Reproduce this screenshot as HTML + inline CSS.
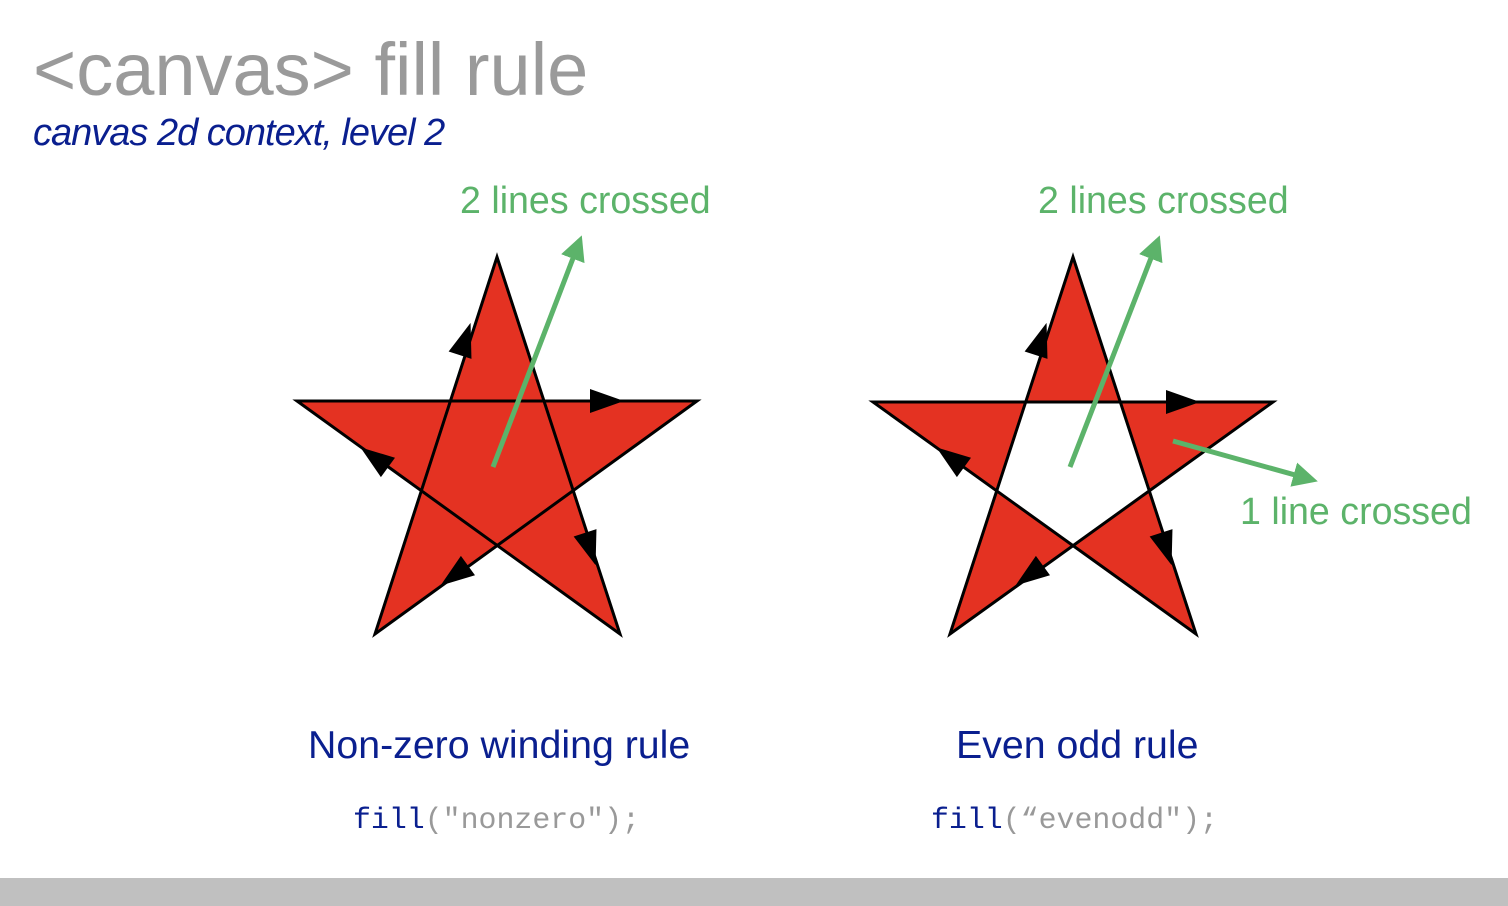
<!DOCTYPE html>
<html><head><meta charset="utf-8"><style>
html,body{margin:0;padding:0;background:#fff;}
body{width:1508px;height:906px;position:relative;overflow:hidden;font-family:"Liberation Sans",sans-serif;}
.t{position:absolute;white-space:nowrap;}
</style></head><body>
<div class="t" style="left:33px;top:30px;font-size:74px;color:#9a9a9a;line-height:80px;">&lt;canvas&gt; fill rule</div>
<div class="t" style="left:33px;top:111px;font-size:38px;color:#0a1f8f;font-style:italic;letter-spacing:-1px;line-height:44px;">canvas 2d context, level 2</div>
<div class="t" style="left:460px;top:178px;font-size:37.6px;color:#5cb36a;line-height:44px;">2 lines crossed</div>
<div class="t" style="left:1038px;top:178px;font-size:37.6px;color:#5cb36a;line-height:44px;">2 lines crossed</div>
<div class="t" style="left:1240px;top:489px;font-size:37.6px;color:#5cb36a;line-height:44px;">1 line crossed</div>
<div class="t" style="left:308px;top:723px;font-size:39.3px;color:#0a1f8f;line-height:44px;">Non-zero winding rule</div>
<div class="t" style="left:956px;top:723px;font-size:39.3px;color:#0a1f8f;line-height:44px;">Even odd rule</div>
<div class="t" style="left:353px;top:802px;font-size:29.9px;font-family:'Liberation Mono',monospace;color:#999;line-height:36px;"><span style="color:#0a1f8f">fill</span>("nonzero");</div>
<div class="t" style="left:931px;top:802px;font-size:29.9px;font-family:'Liberation Mono',monospace;color:#999;line-height:36px;"><span style="color:#0a1f8f">fill</span>(“evenodd");</div>
<div style="position:absolute;left:0;top:878px;width:1508px;height:28px;background:#c0c0c0;"></div>
<svg width="1508" height="906" style="position:absolute;left:0;top:0" xmlns="http://www.w3.org/2000/svg">
<defs>
<marker id="g" viewBox="0 0 10 10" refX="8" refY="5" markerWidth="5" markerHeight="5" orient="auto"><path d="M0,0 L10,5 L0,10 z" fill="#5cb36a"/></marker>
<g id="ah"><path d="M-16,-12 L18,0 L-16,12 z" fill="#000"/></g>
</defs>
<g>
<path d="M375,634 L497,257 L620,634 L297,401 L697,401 Z" fill="#e43222" stroke="#000" stroke-width="3" fill-rule="nonzero"/>
<use href="#ah" transform="translate(465,340) rotate(-72)"/>
<use href="#ah" transform="translate(590,548) rotate(72)"/>
<use href="#ah" transform="translate(375,458) rotate(-144)"/>
<use href="#ah" transform="translate(606,401)"/>
<use href="#ah" transform="translate(455,575) rotate(144)"/>
</g>
<g>
<path d="M950,634 L1073,257 L1196,634 L873,402 L1273,402 Z" fill="#e43222" stroke="#000" stroke-width="3" fill-rule="evenodd"/>
<use href="#ah" transform="translate(1041,340) rotate(-72)"/>
<use href="#ah" transform="translate(1166,548) rotate(72)"/>
<use href="#ah" transform="translate(951,458) rotate(-144)"/>
<use href="#ah" transform="translate(1182,402)"/>
<use href="#ah" transform="translate(1030,575) rotate(144)"/>
</g>
<line x1="493" y1="467" x2="580" y2="240" stroke="#5cb36a" stroke-width="5" marker-end="url(#g)"/>
<line x1="1070" y1="467" x2="1158" y2="240" stroke="#5cb36a" stroke-width="5" marker-end="url(#g)"/>
<line x1="1173" y1="441" x2="1313" y2="480" stroke="#5cb36a" stroke-width="5" marker-end="url(#g)"/>
</svg>
</body></html>
